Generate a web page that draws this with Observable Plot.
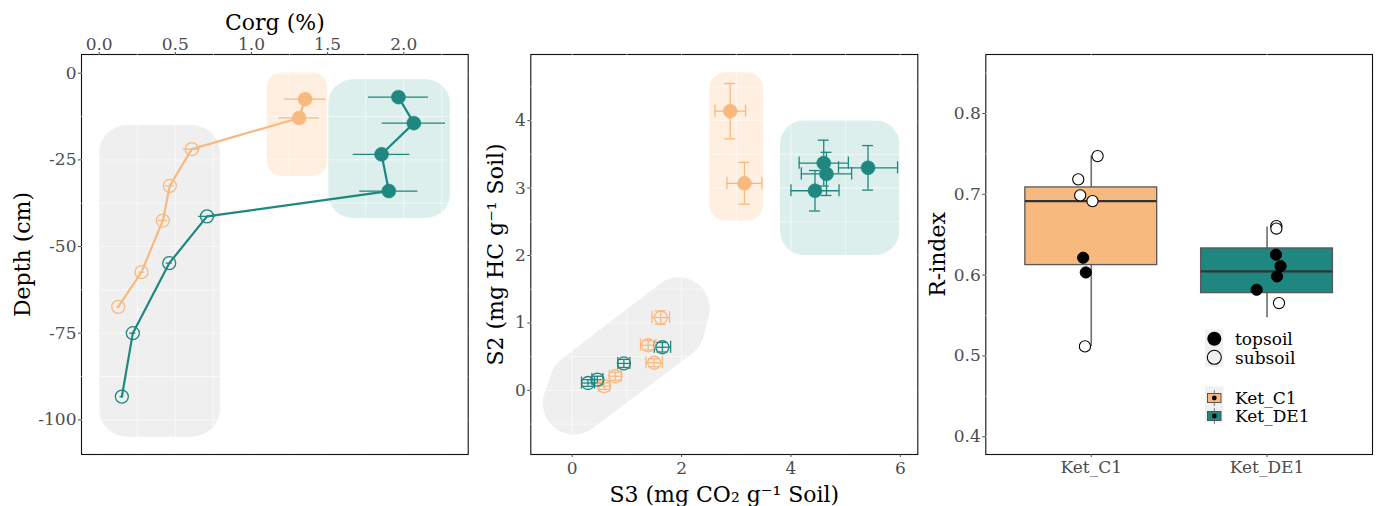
<!DOCTYPE html>
<html><head><meta charset="utf-8">
<script src="https://cdn.jsdelivr.net/npm/d3@7"></script>
<script src="https://cdn.jsdelivr.net/npm/@observablehq/plot@0.6"></script>
<style>
body{margin:0;background:#fff;}
#wrap{position:relative;width:1378px;height:506px;font-family:"DejaVu Serif",serif;background:#fff;overflow:hidden;}
.panel{position:absolute;top:0;}
</style></head><body><div id="wrap"></div>
<script>
// ---------- shared categories ----------
const sites = ["Ket_C1", "Ket_DE1"];
const layers = ["topsoil", "subsoil"];

// ---------- Panel A: Corg depth profiles ----------
const corgSite  = ["Ket_C1","Ket_C1","Ket_C1","Ket_C1","Ket_C1","Ket_C1","Ket_C1",
                   "Ket_DE1","Ket_DE1","Ket_DE1","Ket_DE1","Ket_DE1","Ket_DE1","Ket_DE1","Ket_DE1"];
const corgLayer = ["topsoil","topsoil","subsoil","subsoil","subsoil","subsoil","subsoil",
                   "topsoil","topsoil","topsoil","topsoil","subsoil","subsoil","subsoil","subsoil"];
const corgValue = [1.352, 1.313, 0.608, 0.464, 0.418, 0.278, 0.125,
                   1.965, 2.066, 1.854, 1.902, 0.708, 0.460, 0.221, 0.149];
const corgSd    = [0.136, 0.133, 0.057, 0.030, 0.030, 0.020, 0.010,
                   0.197, 0.208, 0.186, 0.191, 0.055, 0.020, 0.020, 0.012];
const depthCm   = [-7.5, -12.9, -21.9, -32.5, -42.5, -57.4, -67.4,
                   -6.9, -14.4, -23.4, -34.0, -41.3, -54.8, -75.0, -93.3];
// hull rectangles (data units)
const hullAGroup   = ["subsoil", "Ket_C1", "Ket_DE1"];
const hullACorgMin = [0.002, 1.103, 1.508];
const hullACorgMax = [0.796, 1.501, 2.307];
const hullADepthTop    = [-15.1, 0.1, -1.9];
const hullADepthBottom = [-105.0, -29.8, -41.9];
const corgTicks  = [0, 0.5, 1, 1.5, 2];
const corgGrid   = [0, 0.25, 0.5, 0.75, 1, 1.25, 1.5, 1.75, 2, 2.25];
const depthTicks = [0, -25, -50, -75, -100];
const depthGrid  = [0, -12.5, -25, -37.5, -50, -62.5, -75, -87.5, -100];

// ---------- Panel B: S2 vs S3 ----------
const rockSite  = ["Ket_C1","Ket_C1","Ket_DE1","Ket_DE1","Ket_DE1","Ket_DE1",
                   "Ket_C1","Ket_C1","Ket_C1","Ket_C1","Ket_C1","Ket_DE1","Ket_DE1","Ket_DE1","Ket_DE1"];
const rockLayer = ["topsoil","topsoil","topsoil","topsoil","topsoil","topsoil",
                   "subsoil","subsoil","subsoil","subsoil","subsoil","subsoil","subsoil","subsoil","subsoil"];
const s3Value = [2.89, 3.15, 5.41, 4.60, 4.65, 4.44, 1.62, 1.39, 1.50, 0.79, 0.585, 1.65, 0.945, 0.46, 0.29];
const s3Sd    = [0.28, 0.32, 0.54, 0.45, 0.46, 0.44, 0.16, 0.14, 0.15, 0.11, 0.10, 0.15, 0.11, 0.10, 0.12];
const s2Value = [4.14, 3.07, 3.30, 3.37, 3.21, 2.96, 1.08, 0.67, 0.41, 0.21, 0.064, 0.64, 0.40, 0.16, 0.11];
const s2Sd    = [0.41, 0.31, 0.33, 0.34, 0.32, 0.30, 0.10, 0.07, 0.06, 0.06, 0.05, 0.07, 0.06, 0.05, 0.05];
// hull rectangles for topsoil groups (data units)
const hullBGroup = ["Ket_C1", "Ket_DE1"];
const hullBS3Min = [2.52, 3.81];
const hullBS3Max = [3.50, 5.99];
const hullBS2Min = [2.51, 2.00];
const hullBS2Max = [4.71, 4.00];
// subsoil hull outline (data units, inner polygon before rounding)
const hullSubS3 = [0.157, 0.029, 1.853, 1.950];
const hullSubS2 = [0.104, -0.193, 0.915, 1.217];
const s3Ticks = [0, 2, 4, 6];
const s3Grid  = [0, 1, 2, 3, 4, 5, 6];
const s2Ticks = [0, 1, 2, 3, 4];
const s2Grid  = [-0.5, 0, 0.5, 1, 1.5, 2, 2.5, 3, 3.5, 4, 4.5];

// ---------- Panel C: R-index boxplots ----------
const rSite   = ["Ket_C1","Ket_C1","Ket_C1","Ket_C1","Ket_C1","Ket_C1","Ket_C1",
                 "Ket_DE1","Ket_DE1","Ket_DE1","Ket_DE1","Ket_DE1","Ket_DE1","Ket_DE1"];
const rLayer  = ["subsoil","subsoil","subsoil","subsoil","subsoil","topsoil","topsoil",
                 "subsoil","subsoil","subsoil","topsoil","topsoil","topsoil","topsoil"];
const rIndex  = [0.7473, 0.7185, 0.6987, 0.6916, 0.5118, 0.6215, 0.6033,
                 0.6607, 0.6576, 0.5654, 0.6253, 0.6112, 0.5984, 0.5819];
const rJitter = [0.036, -0.074, -0.063, 0.007, -0.036, -0.046, -0.031,
                 0.053, 0.053, 0.068, 0.051, 0.077, 0.057, -0.059];
const boxLow  = [0.5118, 0.5473];
const boxQ1   = [0.6124, 0.5777];
const boxMed  = [0.6916, 0.6046];
const boxQ3   = [0.7085, 0.6330];
const boxHigh = [0.7473, 0.6594];
const rTicks = [0.4, 0.5, 0.6, 0.7, 0.8];
const rGrid  = [0.4, 0.45, 0.5, 0.55, 0.6, 0.65, 0.7, 0.75, 0.8, 0.85];

// ---------- styles ----------
const ORANGE = "#F8B97F", TEAL = "#1E877F";
const siteColor = {domain: sites, range: [ORANGE, TEAL]};
const hullFill = {subsoil: "#EFEFEF", Ket_C1: "#FEEFE1", Ket_DE1: "#DCEFED"};
const hullRadius = {subsoil: 28, Ket_C1: 15, Ket_DE1: 24};
const FONT = "DejaVu Serif";
const TICKCOL = "#4D4D4D";
const GRID = {stroke: "white", strokeOpacity: 0.75, strokeWidth: 0.8};
const baseStyle = {fontFamily: FONT, fontSize: "17px", background: "transparent", overflow: "visible", color: "#000"};

const wrap = document.getElementById("wrap");
function place(svg, left) { svg.classList.add("panel"); svg.style.left = left + "px"; wrap.appendChild(svg); }

// ---------- build panel A ----------
const dA = corgValue.map((v, i) => ({site: corgSite[i], layer: corgLayer[i], corg: v, sd: corgSd[i], depth: depthCm[i]}));
const hA = hullAGroup.map((g, i) => ({group: g, x1: hullACorgMin[i], x2: hullACorgMax[i], y1: hullADepthBottom[i], y2: hullADepthTop[i]}));

const plotA = Plot.plot({
  width: 480, height: 506,
  marginLeft: 81, marginRight: 12.3, marginTop: 54, marginBottom: 52,
  style: baseStyle,
  x: {domain: [-0.116, 2.423]},
  y: {domain: [-110, 5.4]},
  color: siteColor,
  marks: [
    ...hA.map(h => Plot.rect([h], {x1: "x1", x2: "x2", y1: "y1", y2: "y2", fill: hullFill[h.group], rx: hullRadius[h.group]})),
    Plot.frame({stroke: "#111", strokeWidth: 1.1}),
    Plot.gridX(corgGrid, GRID),
    Plot.gridY(depthGrid, GRID),
    Plot.line(dA, {x: "corg", y: "depth", z: "site", stroke: "site", strokeWidth: 2.2}),
    Plot.ruleY(dA, {y: "depth", x1: d => d.corg - d.sd, x2: d => d.corg + d.sd, stroke: "site", strokeWidth: 1.3}),
    Plot.dot(dA.filter(d => d.layer === "subsoil"), {x: "corg", y: "depth", r: 6.5, stroke: "site", fill: "none", strokeWidth: 1.3}),
    Plot.dot(dA.filter(d => d.layer === "topsoil"), {x: "corg", y: "depth", r: 7, fill: "site", stroke: "site", strokeWidth: 0.5}),
    Plot.axisX({anchor: "top", ticks: corgTicks, tickFormat: d3.format(".1f"), tickSize: 3, tickPadding: 2, fontSize: 17, color: TICKCOL, label: null}),
    Plot.axisY({ticks: depthTicks, tickFormat: d => String(d), tickSize: 3, tickPadding: 2, fontSize: 17, color: TICKCOL, label: null}),
    Plot.text(["Corg (%)"], {frameAnchor: "top", dy: -32, fontSize: 22, fill: "#000", textAnchor: "middle", lineAnchor: "middle"}),
    Plot.text(["Depth (cm)"], {frameAnchor: "left", dx: -59, rotate: -90, fontSize: 22, fill: "#000", textAnchor: "middle", lineAnchor: "middle"})
  ]
});
place(plotA, 0);

// ---------- build panel B ----------
const dB = s3Value.map((v, i) => ({site: rockSite[i], layer: rockLayer[i], s3: v, s3sd: s3Sd[i], s2: s2Value[i], s2sd: s2Sd[i]}));
const hB = hullBGroup.map((g, i) => ({group: g, x1: hullBS3Min[i], x2: hullBS3Max[i], y1: hullBS2Min[i], y2: hullBS2Max[i]}));
const hSub = hullSubS3.map((v, i) => ({s3: v, s2: hullSubS2[i]}));
const capX = 0.1, capY = 0.09;
const plotB = Plot.plot({
  width: 440, height: 506,
  marginLeft: 50.3, marginRight: 2.7, marginTop: 54, marginBottom: 52,
  style: baseStyle,
  x: {domain: [-0.757, 6.32]},
  y: {domain: [-0.95, 4.98]},
  color: siteColor,
  marks: [
    Plot.line(hSub, {x: "s3", y: "s2", curve: "linear-closed", fill: hullFill.subsoil, stroke: hullFill.subsoil, strokeWidth: 62, strokeLinejoin: "round"}),
    ...hB.map(h => Plot.rect([h], {x1: "x1", x2: "x2", y1: "y1", y2: "y2", fill: hullFill[h.group], rx: h.group === "Ket_C1" ? 16 : 24})),
    Plot.frame({stroke: "#111", strokeWidth: 1.1}),
    Plot.gridX(s3Grid, GRID),
    Plot.gridY(s2Grid, GRID),
    // horizontal error bars + caps
    Plot.ruleY(dB, {y: "s2", x1: d => d.s3 - d.s3sd, x2: d => d.s3 + d.s3sd, stroke: "site", strokeWidth: 1.3}),
    Plot.ruleX(dB, {x: d => d.s3 - d.s3sd, y1: d => d.s2 - capY, y2: d => d.s2 + capY, stroke: "site", strokeWidth: 1.3}),
    Plot.ruleX(dB, {x: d => d.s3 + d.s3sd, y1: d => d.s2 - capY, y2: d => d.s2 + capY, stroke: "site", strokeWidth: 1.3}),
    // vertical error bars + caps
    Plot.ruleX(dB, {x: "s3", y1: d => d.s2 - d.s2sd, y2: d => d.s2 + d.s2sd, stroke: "site", strokeWidth: 1.3}),
    Plot.ruleY(dB, {y: d => d.s2 - d.s2sd, x1: d => d.s3 - capX, x2: d => d.s3 + capX, stroke: "site", strokeWidth: 1.3}),
    Plot.ruleY(dB, {y: d => d.s2 + d.s2sd, x1: d => d.s3 - capX, x2: d => d.s3 + capX, stroke: "site", strokeWidth: 1.3}),
    Plot.dot(dB.filter(d => d.layer === "subsoil"), {x: "s3", y: "s2", r: 6.5, stroke: "site", fill: "none", strokeWidth: 1.3}),
    Plot.dot(dB.filter(d => d.layer === "topsoil"), {x: "s3", y: "s2", r: 7, fill: "site", stroke: "site", strokeWidth: 0.5}),
    Plot.axisX({ticks: s3Ticks, tickFormat: d => String(d), tickSize: 3, tickPadding: 4, fontSize: 17, color: TICKCOL, label: null}),
    Plot.axisY({ticks: s2Ticks, tickFormat: d => String(d), tickSize: 3, tickPadding: 2, fontSize: 17, color: TICKCOL, label: null}),
    Plot.text(["S3 (mg CO\u2082 g\u207B\u00B9 Soil)"], {frameAnchor: "bottom", dy: 40, fontSize: 22, fill: "#000", textAnchor: "middle", lineAnchor: "middle"}),
    Plot.text(["S2 (mg HC g\u207B\u00B9 Soil)"], {frameAnchor: "left", dx: -35, rotate: -90, fontSize: 22, fill: "#000", textAnchor: "middle", lineAnchor: "middle"})
  ]
});
place(plotB, 480);

// ---------- build panel C ----------
const sitePos = s => sites.indexOf(s) + 1;
const dC = rIndex.map((v, i) => ({site: rSite[i], layer: rLayer[i], r: v, pos: sitePos(rSite[i]) + rJitter[i]}));
const bC = sites.map((s, i) => ({site: s, pos: i + 1, low: boxLow[i], q1: boxQ1[i], med: boxMed[i], q3: boxQ3[i], high: boxHigh[i]}));
const halfW = 0.375;
const plotC = Plot.plot({
  width: 458, height: 506,
  marginLeft: 65.3, marginRight: 6, marginTop: 54, marginBottom: 52,
  style: baseStyle,
  x: {domain: [0.4, 2.6]},
  y: {domain: [0.378, 0.873]},
  color: siteColor,
  marks: [
    Plot.frame({stroke: "#111", strokeWidth: 1.1}),
    Plot.gridX([1, 2], GRID),
    Plot.gridY(rGrid, GRID),
    Plot.ruleX(bC, {x: "pos", y1: "low", y2: "high", stroke: "#6E6E6E", strokeWidth: 1.6}),
    Plot.rect(bC, {x1: d => d.pos - halfW, x2: d => d.pos + halfW, y1: "q1", y2: "q3", fill: "site", stroke: "#595959", strokeWidth: 1.3}),
    Plot.ruleY(bC, {y: "med", x1: d => d.pos - halfW, x2: d => d.pos + halfW, stroke: "#333", strokeWidth: 2.4}),
    Plot.dot(dC.filter(d => d.layer === "topsoil"), {x: "pos", y: "r", r: 5.6, fill: "#000", stroke: "#000", strokeWidth: 1}),
    Plot.dot(dC.filter(d => d.layer === "subsoil"), {x: "pos", y: "r", r: 5.6, fill: "white", stroke: "#000", strokeWidth: 1.1}),
    Plot.axisX({ticks: [1, 2], tickFormat: i => sites[i - 1], tickSize: 3, tickPadding: 3, fontSize: 17, color: TICKCOL, label: null}),
    Plot.axisY({ticks: rTicks, tickFormat: d3.format(".1f"), tickSize: 3, tickPadding: 2, fontSize: 17, color: TICKCOL, label: null}),
    Plot.text(["R-index"], {frameAnchor: "left", dx: -48, rotate: -90, fontSize: 22, fill: "#000", textAnchor: "middle", lineAnchor: "middle"})
  ]
});
place(plotC, 920);

// ---------- legend (panel C, inside) ----------
const NS = "http://www.w3.org/2000/svg";
const leg = document.createElementNS(NS, "svg");
leg.setAttribute("width", 140); leg.setAttribute("height", 115);
leg.style.position = "absolute"; leg.style.left = "1200px"; leg.style.top = "322px";
leg.style.fontFamily = FONT;
function el(tag, attrs, text) { const e = document.createElementNS(NS, tag); for (const k in attrs) e.setAttribute(k, attrs[k]); if (text) e.textContent = text; leg.appendChild(e); return e; }
// shape legend
el("rect", {x: 5, y: 7.5, width: 18.3, height: 37.5, fill: "#F0F0F0"});
el("circle", {cx: 14.3, cy: 16.7, r: 7, fill: "#000"});
el("circle", {cx: 14.3, cy: 35.3, r: 7, fill: "none", stroke: "#000", "stroke-width": 1.1});
el("text", {x: 35, y: 23, "font-size": 17, fill: "#000"}, layers[0]);
el("text", {x: 35, y: 41.5, "font-size": 17, fill: "#000"}, layers[1]);
// fill legend
el("rect", {x: 5, y: 64.5, width: 18.3, height: 36, fill: "#F0F0F0"});
[ORANGE, TEAL].forEach((c, i) => {
  const cy = 76 + i * 18;
  el("line", {x1: 14.3, x2: 14.3, y1: cy - 8, y2: cy + 8, stroke: "#777", "stroke-width": 1});
  el("rect", {x: 7.5, y: cy - 4.5, width: 13.5, height: 9, fill: c, stroke: "#555", "stroke-width": 1});
  el("circle", {cx: 14.3, cy: cy, r: 2.4, fill: "#000"});
  el("text", {x: 35, y: cy + 6, "font-size": 17, fill: "#000"}, sites[i]);
});
wrap.appendChild(leg);
</script></body></html>
